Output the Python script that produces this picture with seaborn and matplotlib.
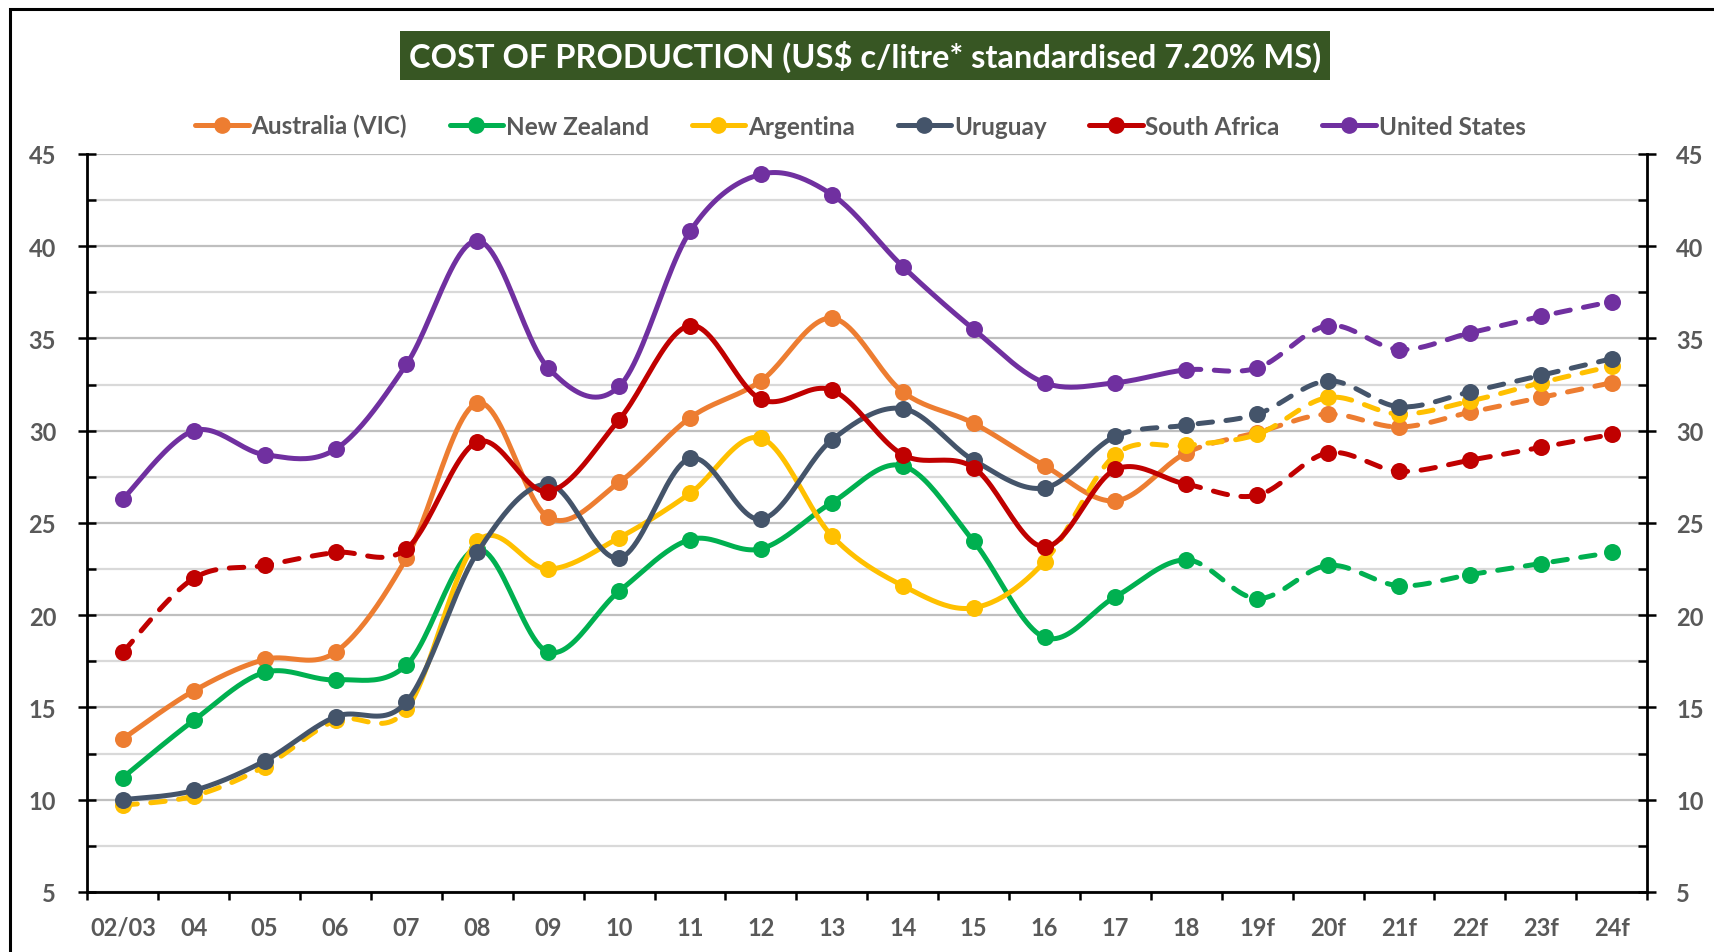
import numpy as np
import pandas as pd
import seaborn as sns
import matplotlib.pyplot as plt
from matplotlib.lines import Line2D
from matplotlib.patches import Rectangle
from matplotlib.ticker import FixedLocator, MultipleLocator

# --- data (US$ c/litre) ---
years = ["02/03", "04", "05", "06", "07", "08", "09", "10", "11", "12", "13",
         "14", "15", "16", "17", "18", "19f", "20f", "21f", "22f", "23f", "24f"]

australia = [13.3, 15.9, 17.6, 18.0, 23.1, 31.5, 25.3, 27.2, 30.7, 32.7, 36.1,
             32.1, 30.4, 28.1, 26.2, 28.8, 29.9, 30.9, 30.2, 31.0, 31.8, 32.6]
new_zealand = [11.2, 14.3, 16.9, 16.5, 17.3, 23.6, 18.0, 21.3, 24.1, 23.6, 26.1,
               28.1, 24.0, 18.8, 21.0, 23.0, 20.9, 22.7, 21.6, 22.2, 22.8, 23.4]
argentina = [9.7, 10.2, 11.8, 14.3, 14.9, 24.0, 22.5, 24.2, 26.6, 29.6, 24.3,
             21.6, 20.4, 22.9, 28.7, 29.2, 29.8, 31.8, 30.9, 31.6, 32.6, 33.5]
uruguay = [10.0, 10.5, 12.1, 14.5, 15.3, 23.4, 27.1, 23.1, 28.5, 25.2, 29.5,
           31.2, 28.4, 26.9, 29.7, 30.3, 30.9, 32.7, 31.3, 32.1, 33.0, 33.9]
south_africa = [18.0, 22.0, 22.7, 23.4, 23.6, 29.4, 26.7, 30.6, 35.7, 31.7, 32.2,
                28.7, 28.0, 23.7, 27.9, 27.1, 26.5, 28.8, 27.8, 28.4, 29.1, 29.8]
united_states = [26.3, 30.0, 28.7, 29.0, 33.6, 40.3, 33.4, 32.4, 40.8, 43.9, 42.8,
                 38.9, 35.5, 32.6, 32.6, 33.3, 33.4, 35.7, 34.4, 35.3, 36.2, 37.0]

names = ["Australia (VIC)", "New Zealand", "Argentina", "Uruguay",
         "South Africa", "United States"]
colors = ["#ED7D31", "#00B050", "#FFC000", "#44546A", "#C00000", "#7030A0"]
# solid / dashed stretches (index ranges) for each series
styles = [
    [(0, 15, "-"), (15, 21, "--")],
    [(0, 15, "-"), (15, 21, "--")],
    [(0, 4, "--"), (4, 13, "-"), (13, 21, "--")],
    [(0, 14, "-"), (14, 21, "--")],
    [(0, 4, "--"), (4, 15, "-"), (15, 21, "--")],
    [(0, 15, "-"), (15, 21, "--")],
]
series = [australia, new_zealand, argentina, uruguay, south_africa, united_states]

GREY = "#595959"
LW = 3.6
N = 25


def smooth(xs, ys, n=N):
    # excel-like smoothed line (catmull-rom as bezier)
    pts = np.column_stack([xs, ys]).astype(float)
    P = np.vstack([pts[0], pts, pts[-1]])
    t = np.linspace(0, 1, n)[:, None]
    out = []
    for i in range(len(pts) - 1):
        p0, p1, p2, p3 = P[i], P[i + 1], P[i + 2], P[i + 3]
        c1 = p1 + (p2 - p0) / 6
        c2 = p2 - (p3 - p1) / 6
        seg = (1 - t) ** 3 * p1 + 3 * (1 - t) ** 2 * t * c1 + 3 * (1 - t) * t ** 2 * c2 + t ** 3 * p2
        out.append(seg if i == 0 else seg[1:])
    return np.vstack(out)


sns.set_theme(style="white")
plt.rcParams["font.family"] = ["Lato", "DejaVu Sans"]
plt.rcParams["font.weight"] = "bold"

fig = plt.figure(figsize=(17.14, 9.53), dpi=100)
ax = fig.add_axes([0.051, 0.063, 0.910, 0.7744])

x = np.arange(len(years))
for k, (name, vals, col) in enumerate(zip(names, series, colors)):
    curve = smooth(x, vals)
    z = 3 + k
    for a, b, ls in styles[k]:
        seg = curve[a * (N - 1): b * (N - 1) + 1]
        d = pd.DataFrame({"x": seg[:, 0], "y": seg[:, 1]})
        lsty = "-" if ls == "-" else (0, (2.9, 2.7))
        sns.lineplot(data=d, x="x", y="y", ax=ax, color=col, linewidth=LW, linestyle=lsty,
                     sort=False, estimator=None, solid_capstyle="round",
                     dash_capstyle="round", zorder=z)
    pts = pd.DataFrame({"x": x, "y": vals})
    sns.scatterplot(data=pts, x="x", y="y", ax=ax, color=col, s=150, linewidth=0,
                    zorder=z, legend=False)

ax.set_xlim(-0.5, len(years) - 0.5)
ax.set_ylim(5, 45)
ax.set_xlabel("")
ax.set_ylabel("")

# y axis
ax.yaxis.set_major_locator(MultipleLocator(5))
ax.yaxis.set_minor_locator(MultipleLocator(2.5))
ax.grid(True, axis="y", which="major", color="#BFBFBF", lw=1.6, zorder=0)
ax.grid(True, axis="y", which="minor", color="#D9D9D9", lw=1.6, zorder=0)
ax.grid(False, axis="x", which="both")
ax.tick_params(axis="y", which="major", direction="inout", length=13, width=1.8,
               color="black", left=True, labelsize=17, labelcolor=GREY, pad=16)
ax.tick_params(axis="y", which="minor", direction="in", length=6.5, width=1.8,
               color="black", left=True)

# x axis: ticks between categories, labels centred
ax.xaxis.set_major_locator(FixedLocator(np.arange(len(years) + 1) - 0.5))
ax.xaxis.set_minor_locator(FixedLocator(x))
ax.set_xticklabels([""] * (len(years) + 1))
ax.set_xticklabels(years, minor=True)
ax.tick_params(axis="x", which="major", direction="out", length=6, width=1.8,
               color="black", bottom=True)
ax.tick_params(axis="x", which="minor", length=0, labelsize=17, labelcolor=GREY, pad=17)

for s in ["left", "right", "bottom"]:
    ax.spines[s].set_visible(True)
    ax.spines[s].set_color("black")
    ax.spines[s].set_linewidth(2)
ax.spines["top"].set_visible(False)

# right axis
ax2 = ax.twinx()
ax2.set_ylim(5, 45)
ax2.yaxis.set_major_locator(MultipleLocator(5))
ax2.yaxis.set_minor_locator(MultipleLocator(2.5))
for s in ax2.spines.values():
    s.set_visible(False)
ax2.grid(False)
ax2.tick_params(axis="y", which="major", direction="inout", length=13, width=1.8,
                color="black", right=True, labelsize=17, labelcolor=GREY, pad=14.5)
ax2.tick_params(axis="y", which="minor", direction="in", length=6.5, width=1.8,
                color="black", right=True)

# legend
handles = [Line2D([0], [0], color=c, lw=LW, marker="o", markersize=11,
                  solid_capstyle="round") for c in colors]
fig.legend(handles, names, loc="center", bbox_to_anchor=(0.502, 0.867), ncol=6,
           frameon=False, handlelength=2.2, handletextpad=0.12, columnspacing=1.75,
           prop={"size": 17.5, "weight": "bold"}, labelcolor=GREY)

# title box
fig.patches.append(Rectangle((0.2334, 0.915), 0.5426, 0.0514, transform=fig.transFigure,
                             facecolor="#375623", edgecolor="none", zorder=1))
fig.text(0.5047, 0.9407, "COST OF PRODUCTION (US$ c/litre* standardised 7.20% MS)",
         ha="center", va="center", color="white", fontsize=23.5, fontweight="bold", zorder=2)

# outer frame
fig.patches.append(Rectangle((10 / 1714, -0.1), 1.2, 1 - 10 / 953 + 0.1,
                             transform=fig.transFigure, facecolor="none",
                             edgecolor="black", lw=2.2, zorder=0))

fig.savefig("out.png", dpi=100)
